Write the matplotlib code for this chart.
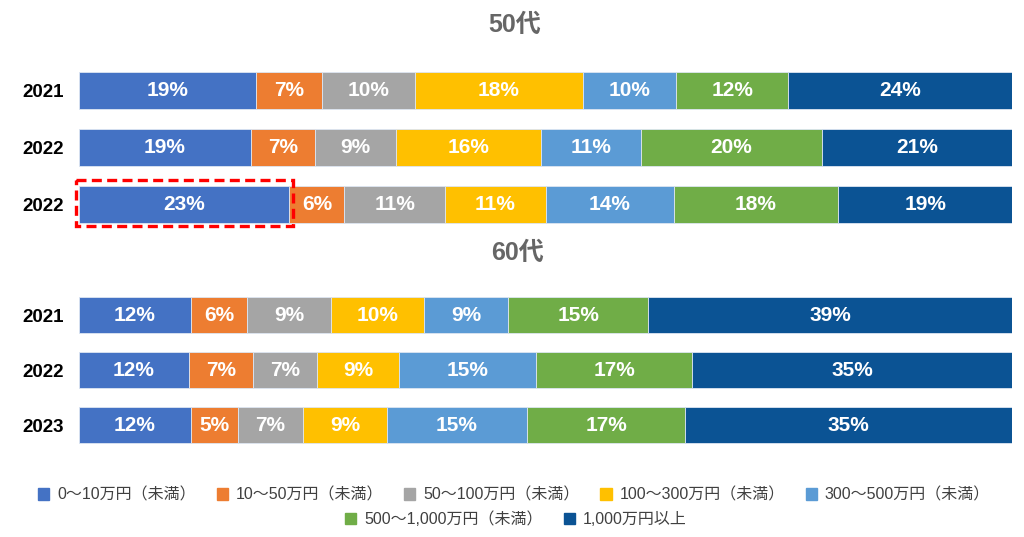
import numpy as np
import matplotlib
matplotlib.use("Agg")
from matplotlib import pyplot as plt
from matplotlib.patches import Rectangle

plt.rcParams['font.family'] = ['Liberation Sans', 'Noto Sans CJK JP', 'DejaVu Sans']

categories = ["0～10万円（未満）", "10～50万円（未満）", "50～100万円（未満）",
              "100～300万円（未満）", "300～500万円（未満）",
              "500～1,000万円（未満）", "1,000万円以上"]
colors = ["#4472C4", "#ED7D31", "#A5A5A5", "#FFC000", "#5B9BD5", "#70AD47", "#0B5394"]

years_50 = ["2021", "2022", "2022"]
values_50 = [
    [19, 7, 10, 18, 10, 12, 24],
    [19, 7, 9, 16, 11, 20, 21],
    [23, 6, 11, 11, 14, 18, 19],
]
years_60 = ["2021", "2022", "2023"]
values_60 = [
    [12, 6, 9, 10, 9, 15, 39],
    [12, 7, 7, 9, 15, 17, 35],
    [12, 5, 7, 9, 15, 17, 35],
]

W, H = 1024, 537
fig = plt.figure(figsize=(W / 100, H / 100), dpi=100)


def px_axes(top, bottom):
    left, right = 79, 1012
    return fig.add_axes([left / W, 1 - bottom / H, (right - left) / W, (bottom - top) / H])


def draw_group(ax, years, values):
    for i, row in enumerate(values):
        row = np.array(row, dtype=float)
        shares = row / row.sum() * 100  # bars are drawn as 100% stacked
        starts = np.concatenate([[0], np.cumsum(shares)[:-1]])
        for j, (s, w) in enumerate(zip(starts, shares)):
            ax.barh(i, w, left=s, height=0.65, color=colors[j],
                    edgecolor="#dde6f2", linewidth=0.6)
            ax.text(s + w / 2, i, f"{int(row[j])}%", ha="center", va="center",
                    color="white", fontsize=15, fontweight="bold")
    ax.set_xlim(0, 100)
    ax.set_ylim(len(values) - 0.5, -0.5)
    ax.set_yticks(range(len(years)))
    ax.set_yticklabels(years, fontsize=13.5, fontweight="bold")
    ax.tick_params(axis="y", length=0, pad=11)
    ax.set_xticks([])
    for sp in ax.spines.values():
        sp.set_visible(False)


ax1 = px_axes(62, 232.5)
draw_group(ax1, years_50, values_50)
ax2 = px_axes(287.5, 453)
draw_group(ax2, years_60, values_60)

# red dashed highlight around the first segment of the last 50代 row
row = np.array(values_50[2], dtype=float)
seg = row[0] / row.sum() * 100
ax1.add_patch(Rectangle((-0.35, 2 - 0.42), seg + 0.7, 0.8, fill=False,
                        edgecolor="#FF0000", linewidth=2.4, linestyle=(0, (3, 1.6)),
                        clip_on=False, zorder=5))

fig.text(515 / W, 1 - 25 / H, "50代", ha="center", va="center",
         fontsize=18, fontweight="bold", color="#666666")
fig.text(517 / W, 1 - 253 / H, "60代", ha="center", va="center",
         fontsize=18, fontweight="bold", color="#666666")

handles = [Rectangle((0, 0), 1, 1, color=c) for c in colors]
leg_kw = dict(frameon=False, fontsize=11.5, handlelength=0.7, handleheight=0.7,
              handletextpad=0.5, columnspacing=1.3, labelcolor="#404040",
              borderaxespad=0, borderpad=0)
fig.legend(handles[:5], categories[:5], ncol=5, loc="center",
           bbox_to_anchor=(514 / W, 1 - 495 / H), **leg_kw)
fig.legend(handles[5:], categories[5:], ncol=2, loc="center",
           bbox_to_anchor=(516 / W, 1 - 519 / H), **leg_kw)

fig.savefig("out.png", dpi=100, facecolor="white")
